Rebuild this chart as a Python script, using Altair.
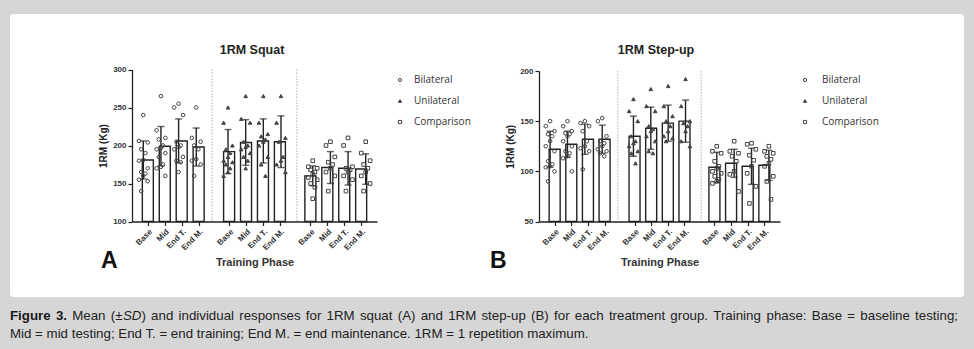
import altair as alt
import pandas as pd

PHASES = ["Base", "Mid", "End T.", "End M."]
GROUPS = ["Bilateral", "Unilateral", "Comparison"]
SHAPES = ["circle", "triangle-up", "square"]

# ---------------- 1RM squat (panel A) ----------------
squat_mean_bilateral = [181, 199, 206, 198]
squat_sd_bilateral = [25, 26, 29, 25]
squat_mean_unilateral = [192, 204, 206, 205]
squat_sd_unilateral = [29, 30, 29, 34]
squat_mean_comparison = [160, 171, 170, 169]
squat_sd_comparison = [13, 21, 22, 20]

squat_points_bilateral = [
    [240, 206, 204, 195, 190, 181, 180, 170, 165, 163, 160, 155, 153, 140],
    [265, 220, 210, 208, 200, 197, 195, 190, 185, 175, 172, 170, 160],
    [255, 250, 240, 205, 200, 198, 195, 185, 180, 178, 165],
    [250, 210, 205, 200, 195, 182, 180, 175, 160],
]
squat_points_unilateral = [
    [250, 230, 200, 195, 190, 185, 180, 178, 175, 170, 165, 160],
    [265, 235, 230, 205, 200, 198, 195, 190, 185, 180, 170],
    [265, 230, 215, 212, 208, 205, 200, 185, 175, 160],
    [265, 230, 210, 205, 185, 180, 175, 165],
]
squat_points_comparison = [
    [180, 172, 170, 168, 165, 162, 158, 155, 150, 145, 130],
    [205, 200, 185, 178, 175, 170, 165, 160, 140],
    [210, 200, 172, 170, 168, 165, 160, 155, 140],
    [205, 190, 180, 175, 170, 165, 160, 150, 140],
]

# ---------------- 1RM step-up (panel B) ----------------
stepup_mean_bilateral = [122, 127, 132, 132]
stepup_sd_bilateral = [18, 13, 15, 14]
stepup_mean_unilateral = [135, 143, 148, 150]
stepup_sd_unilateral = [20, 21, 18, 21]
stepup_mean_comparison = [104, 108, 105, 106]
stepup_sd_comparison = [15, 14, 18, 15]

stepup_points_bilateral = [
    [150, 145, 140, 137, 135, 130, 125, 120, 110, 107, 105, 104, 100, 90],
    [150, 145, 140, 138, 137, 135, 130, 125, 120, 118, 115, 113, 100],
    [150, 148, 145, 140, 130, 125, 123, 120, 102],
    [153, 150, 135, 130, 128, 125, 122, 120, 118, 115],
]
stepup_points_unilateral = [
    [172, 160, 150, 135, 130, 128, 125, 120, 118, 108],
    [182, 165, 160, 145, 142, 140, 135, 130, 120, 118],
    [185, 165, 155, 150, 145, 140, 135, 133, 130],
    [192, 165, 150, 148, 145, 140, 130, 125],
]
stepup_points_comparison = [
    [125, 120, 118, 110, 105, 103, 100, 98, 95, 92, 90, 88],
    [130, 120, 118, 115, 110, 100, 97, 80],
    [128, 127, 122, 116, 111, 105, 98, 85, 68],
    [125, 120, 118, 115, 112, 108, 105, 95, 90, 72],
]

SQUAT_TICKS = [100, 150, 200, 250, 300]
STEPUP_TICKS = [50, 100, 150, 200]

# caption, line 1 as (word, style, glued-to-previous-word)
CAPTION_LINE1 = [
    ("Figure", "bold", False), ("3.", "bold", False), ("Mean", "normal", False),
    ("(\u00b1", "normal", False), ("SD", "italic", True), (")", "normal", True),
] + [(w, "normal", False) for w in (
    "and individual responses for 1RM squat (A) and 1RM step-up (B) for each "
    "treatment group. Training phase: Base = baseline testing;").split(" ")]
CAPTION_LINE2 = ("Mid = mid testing; End T. = end training; End M. = end maintenance. "
                 "1RM = 1 repetition maximum.")

# ---------------- layout / style ----------------
FONT = "Liberation Sans"
CAP_SIZE = 13.3
CAP_LEFT, CAP_RIGHT = 10, 958
INK = "#222222"
GROUP_STEP = 4.8          # distance between first bars of consecutive groups (in bar steps)
JITTER = [0, -0.25, 0.25, -0.12, 0.12]
PAD = 0.64
LAST = 3 + 2 * GROUP_STEP

# Liberation Sans (Arial-compatible) advance widths, 1/1000 em, for justifying line 1
_W = {" ": 278, "(": 333, ")": 333, ".": 278, ";": 278, ":": 278, "=": 584, "\u00b1": 584, "-": 333}
_W.update({d: 556 for d in "0123456789"})
_W.update(dict(zip("ABCDEFGHIJKLMNOPQRSTUVWXYZ",
                   [667, 667, 722, 722, 667, 611, 778, 722, 278, 500, 667, 556, 833, 722, 778, 667,
                    778, 722, 667, 611, 722, 667, 944, 667, 667, 611])))
_W.update(dict(zip("abcdefghijklmnopqrstuvwxyz",
                   [556, 556, 500, 556, 556, 278, 556, 556, 222, 222, 500, 222, 833, 556, 556, 556,
                    556, 333, 500, 278, 556, 500, 722, 500, 500, 500])))
_WB = dict(_W)
_WB.update({"F": 611, "i": 278, "g": 611, "u": 611, "r": 389, "e": 556, "3": 556, ".": 278})


def text_width(s, style, size):
    table = _WB if style == "bold" else _W
    return sum(table.get(c, 556) for c in s) * size / 1000.0


def justify(tokens, left, right, size):
    widths = [text_width(t, st, size) for t, st, _ in tokens]
    gaps = sum(1 for _, _, glued in tokens[1:] if not glued)
    extra = (right - left) - sum(widths)
    gap = extra / gaps
    rows, x = [], left
    for (t, st, glued), w in zip(tokens, widths):
        if rows and not glued:
            x += gap
        rows.append(dict(text=t, style=st, x=x))
        x += w
    return pd.DataFrame(rows)


one = pd.DataFrame({"k": [0]})


def build_frames(means, sds, points, y_min):
    summ, pts = [], []
    for g, grp in enumerate(GROUPS):
        for i, ph in enumerate(PHASES):
            pos = i + g * GROUP_STEP
            m, s = means[g][i], sds[g][i]
            summ.append(dict(group=grp, phase=ph, pos=pos, mean=m, lo=m - s, hi=m + s, base=y_min))
            for k, v in enumerate(points[g][i]):
                pts.append(dict(group=grp, phase=ph, pos=pos, xj=pos + JITTER[k % len(JITTER)], value=v))
    return pd.DataFrame(summ), pd.DataFrame(pts)


def panel_layers(means, sds, points, y_dom, y_ticks, x_rng, y_rng, y_off, x_off, y_title_pad):
    """Flat list of layers; every layer uses identical explicit scales."""
    summ, pts = build_frames(means, sds, points, y_dom[0])
    positions = list(summ["pos"])

    def xs():
        return alt.Scale(domain=[-PAD, LAST + PAD], range=x_rng, nice=False, zero=False)

    def ys():
        return alt.Scale(domain=y_dom, range=y_rng, nice=False, zero=False)

    x_axis = alt.Axis(
        orient="bottom", offset=x_off, values=positions, zindex=2, labelOverlap=False,
        labelExpr="['Base','Mid','End T.','End M.'][round(datum.value - floor((datum.value + 0.5) / %s) * %s)]"
        % (GROUP_STEP, GROUP_STEP),
        labelAngle=-45, labelFontSize=8, labelFontWeight="bold", labelColor="#333",
        tickSize=4, tickColor=INK, domainColor=INK, domainWidth=1.3, tickWidth=1.2,
        grid=False, title="Training Phase", titleFontSize=11, titleFontWeight="bold",
        titleColor="#333", titlePadding=5,
    )
    y_axis = alt.Axis(
        orient="left", offset=y_off, values=y_ticks, zindex=2, labelFontSize=8, labelFontWeight="bold",
        labelColor="#333", tickSize=4, tickColor=INK, domainColor=INK, domainWidth=1.3,
        tickWidth=1.2, grid=False, title="1RM (Kg)", titleFontSize=10, titleFontWeight="bold",
        titleColor="#222", titlePadding=y_title_pad,
    )
    div = pd.DataFrame({
        "pos": [3 + (GROUP_STEP - 3) / 2 + g * GROUP_STEP for g in range(len(GROUPS) - 1)],
        "top": y_dom[1], "bottom": y_dom[0],
    })
    dividers = alt.Chart(div).mark_rule(color="#b0b0b0", strokeDash=[1.5, 1.5], strokeWidth=1).encode(
        x=alt.X("pos:Q", scale=xs(), axis=None), y=alt.Y("top:Q", scale=ys(), axis=None), y2="bottom:Q")
    bars = alt.Chart(summ).mark_bar(fill="white", stroke=INK, strokeWidth=1.4, size=11).encode(
        x=alt.X("pos:Q", scale=xs(), axis=x_axis), y=alt.Y("mean:Q", scale=ys(), axis=y_axis), y2="base:Q")
    err = alt.Chart(summ).mark_rule(color=INK, strokeWidth=1.4).encode(
        x=alt.X("pos:Q", scale=xs(), axis=None), y=alt.Y("lo:Q", scale=ys(), axis=None), y2="hi:Q")
    cap_hi = alt.Chart(summ).mark_tick(orient="horizontal", size=7, thickness=1.4, color=INK).encode(
        x=alt.X("pos:Q", scale=xs(), axis=None), y=alt.Y("hi:Q", scale=ys(), axis=None))
    cap_lo = alt.Chart(summ).mark_tick(orient="horizontal", size=7, thickness=1.4, color=INK).encode(
        x=alt.X("pos:Q", scale=xs(), axis=None), y=alt.Y("lo:Q", scale=ys(), axis=None))
    dots = alt.Chart(pts).mark_point(size=13, strokeWidth=1, opacity=1).encode(
        x=alt.X("xj:Q", scale=xs(), axis=None), y=alt.Y("value:Q", scale=ys(), axis=None),
        shape=alt.Shape("group:N", scale=alt.Scale(domain=GROUPS, range=SHAPES), legend=None),
        fill=alt.Fill("group:N", scale=alt.Scale(domain=GROUPS, range=["transparent", "#444", "transparent"]), legend=None),
        stroke=alt.value("#444"),
    )
    return [dividers, bars, err, cap_hi, cap_lo, dots]


def legend_layers(x_sym, x_txt):
    ldf = pd.DataFrame({"group": GROUPS})

    def ly():
        return alt.Y("group:N", scale=alt.Scale(domain=GROUPS, range=[80, 122], padding=0), axis=None)

    sym = alt.Chart(ldf).mark_point(size=10, strokeWidth=1, opacity=1).encode(
        x=alt.value(x_sym), y=ly(),
        shape=alt.Shape("group:N", scale=alt.Scale(domain=GROUPS, range=SHAPES), legend=None),
        fill=alt.Fill("group:N", scale=alt.Scale(domain=GROUPS, range=["transparent", "#444", "transparent"]), legend=None),
        stroke=alt.value("#444"))
    lab = alt.Chart(ldf).mark_text(align="left", baseline="middle", font="Open Sans", fontSize=10, color="#333").encode(
        x=alt.value(x_txt), y=ly(), text="group:N")
    return [sym, lab]


def txt(s, x, y, size, weight="normal", style="normal", font=FONT, align="left", color="#222"):
    return alt.Chart(one).mark_text(
        text=s, align=align, baseline="alphabetic", fontSize=size, fontWeight=weight,
        fontStyle=style, font=font, color=color).encode(x=alt.value(x), y=alt.value(y))


def caption_layers():
    words = justify(CAPTION_LINE1, CAP_LEFT, CAP_RIGHT, CAP_SIZE)
    layers = []
    for st in ("normal", "bold", "italic"):
        sub = words[words["style"] == st]
        layers.append(alt.Chart(sub).mark_text(
            align="left", baseline="alphabetic", fontSize=CAP_SIZE, font=FONT,
            fontWeight="bold" if st == "bold" else "normal",
            fontStyle="italic" if st == "italic" else "normal",
            color="#1a1a1a" if st == "bold" else "#222").encode(
            x=alt.X("x:Q", scale=None), y=alt.value(320), text="text:N"))
    layers.append(txt(CAPTION_LINE2, CAP_LEFT, 338, CAP_SIZE))
    return layers


white_panel = alt.Chart(one).mark_rect(color="white", cornerRadius=3).encode(
    x=alt.value(10), x2=alt.value(964), y=alt.value(14), y2=alt.value(297))

panel_a = panel_layers(
    [squat_mean_bilateral, squat_mean_unilateral, squat_mean_comparison],
    [squat_sd_bilateral, squat_sd_unilateral, squat_sd_comparison],
    [squat_points_bilateral, squat_points_unilateral, squat_points_comparison],
    [100, 300], SQUAT_TICKS, [132, 377], [221.5, 69.5], -132, -127.5, 4)

panel_b = panel_layers(
    [stepup_mean_bilateral, stepup_mean_unilateral, stepup_mean_comparison],
    [stepup_sd_bilateral, stepup_sd_unilateral, stepup_sd_comparison],
    [stepup_points_bilateral, stepup_points_unilateral, stepup_points_comparison],
    [50, 200], STEPUP_TICKS, [539, 780], [221.5, 71], -539, -127.5, 4)

texts = [
    txt("1RM Squat", 252, 54, 12.5, "bold", align="center"),
    txt("1RM Step-up", 656, 54, 12.5, "bold", align="center"),
    txt("A", 101, 268, 23, "bold", color="#111"),
    txt("B", 490, 268, 23, "bold", color="#111"),
]

chart = alt.layer(
    white_panel, *panel_a, *panel_b, *legend_layers(400, 414), *legend_layers(805, 822),
    *texts, *caption_layers()
).resolve_scale(x="independent", y="independent").properties(
    width=974, height=349, padding=0, autosize=alt.AutoSizeParams(type="none"),
    background="#d6d6d6",
).configure(font=FONT).configure_view(stroke=None)

chart.save("out.html", embed_options={"renderer": "svg", "actions": False})
